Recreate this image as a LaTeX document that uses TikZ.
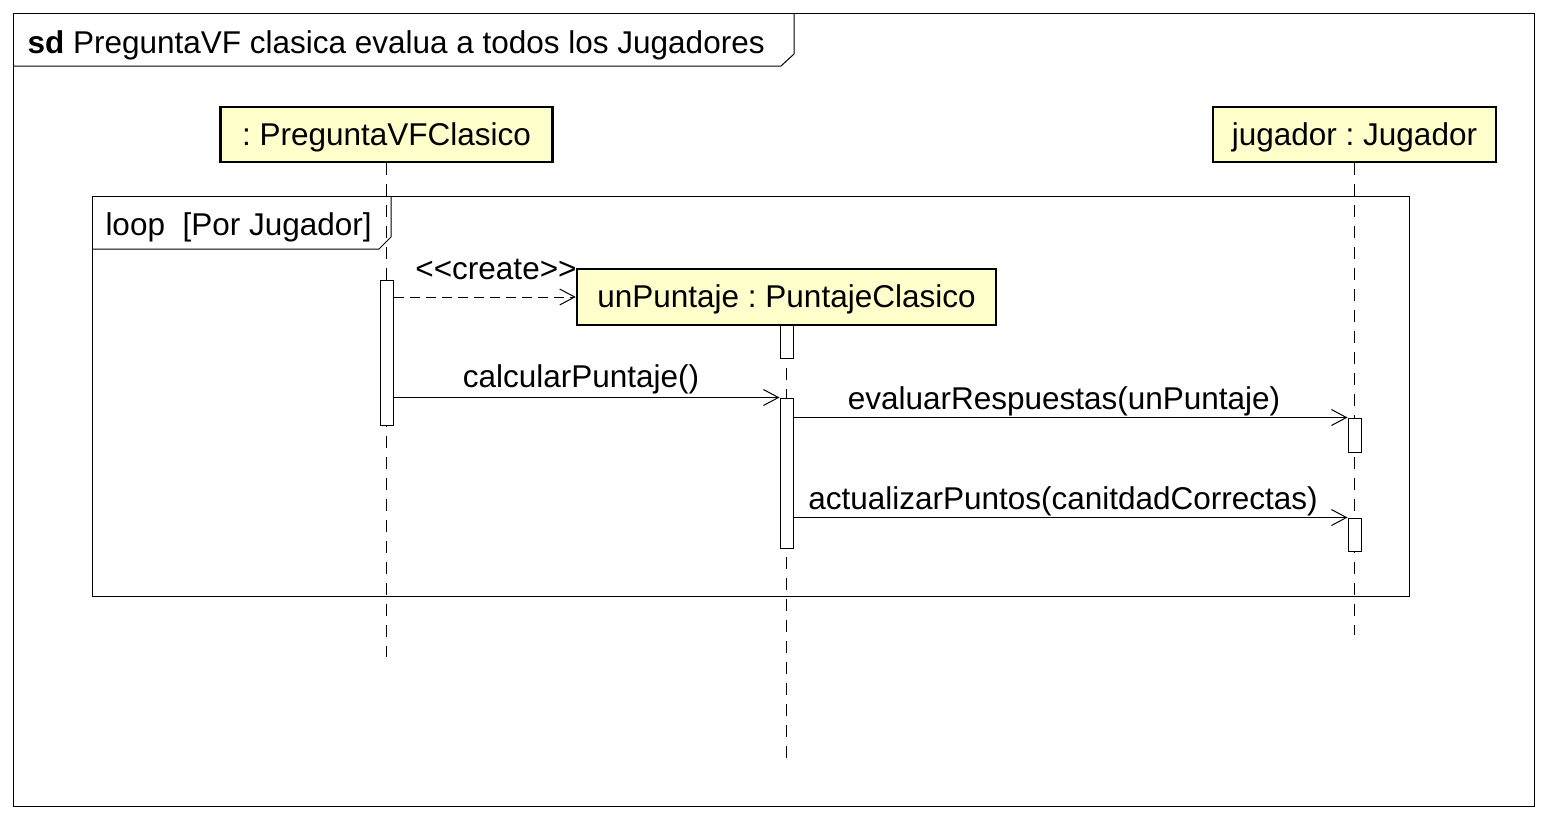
\documentclass[tikz,border=0pt]{standalone}
\usepackage{fontspec}
\setmainfont{Liberation Sans}
\usetikzlibrary{arrows.meta}
\definecolor{lifeyellow}{HTML}{FFFFCC}
\frenchspacing

\begin{document}
\begin{tikzpicture}[x=1pt, y=-1pt,
  font=\fontsize{31.5}{37}\selectfont,
  line width=1pt,
  objbox/.style={draw, line width=2.6pt, fill=lifeyellow, minimum height=55pt,
    inner sep=0pt, text height=23pt, text depth=2pt},
  actbox/.style={draw, fill=white, minimum width=13pt, inner sep=0pt},
  lifeline/.style={dash pattern=on 12pt off 9pt},
  msg/.style={-{Straight Barb[length=15pt,width=16pt]}},
  createmsg/.style={msg, dash pattern=on 10pt off 6pt},
  msgtext/.style={inner sep=0pt, anchor=base}
]
\useasboundingbox (0,0) rectangle (1548,820);

% outer sd frame
\draw (13,13) rectangle (1534,806);
\draw (13,66) -- (781,66) -- (794,54) -- (794,13);
\node[msgtext, anchor=base west] (title) at (27,53) {\textbf{sd} PreguntaVF clasica evalua a todos los Jugadores};

% loop fragment
\draw (92,196) rectangle (1409,596);
\draw (92,249) -- (379,249) -- (391,237) -- (391,196);
\node[msgtext, anchor=base west] (loopname) at (105,235) {loop~~[Por Jugador]};

% create label sits under the new object's box
\node[msgtext] (lcreate) at (496,279) {\textless\kern0pt\textless create\textgreater\kern0pt\textgreater};

% lifelines
\node[objbox, minimum width=332pt] (pvf) at (386.5,134.5) {: PreguntaVFClasico};
\node[objbox, minimum width=283pt] (jug) at (1354.5,134.5) {jugador : Jugador};
\node[objbox, minimum width=419pt, minimum height=56pt] (unP) at (786.5,297) {unPuntaje : PuntajeClasico};

\coordinate (pvfEnd) at (386.5,657);
\coordinate (jugEnd) at (1354.5,635);
\coordinate (unPEnd) at (786.5,767);
\draw[lifeline] (pvf.south) -- (pvfEnd);
\draw[lifeline] (jug.south) -- (jugEnd);
\draw[lifeline] (unP.south) -- (unPEnd);

% activations
\node[actbox, minimum height=145pt] (actP) at (386.5,352.5) {};
\node[actbox, minimum height=33pt] (actU1) at (786.5,341.5) {};
\node[actbox, minimum height=150pt] (actU2) at (786.5,473) {};
\node[actbox, minimum height=34pt] (actJ1) at (1354.5,435) {};
\node[actbox, minimum height=33pt] (actJ2) at (1354.5,534.5) {};

% messages
\draw[createmsg] (actP.east |- unP.west) -- (unP.west);
\draw[msg] (actP.east |- actU2.north) -- (actU2.north west);
\draw[msg] (actU2.east |- actJ1.north) -- (actJ1.north west);
\draw[msg] (actU2.east |- actJ2.north) -- (actJ2.north west);

\node[msgtext] (lcalc) at (581,387) {calcularPuntaje()};
\node[msgtext] (leval) at (1064,409) {evaluarRespuestas(unPuntaje)};
\node[msgtext] (lact) at (1063,509) {actualizarPuntos(canitdadCorrectas)};
\end{tikzpicture}
\end{document}
